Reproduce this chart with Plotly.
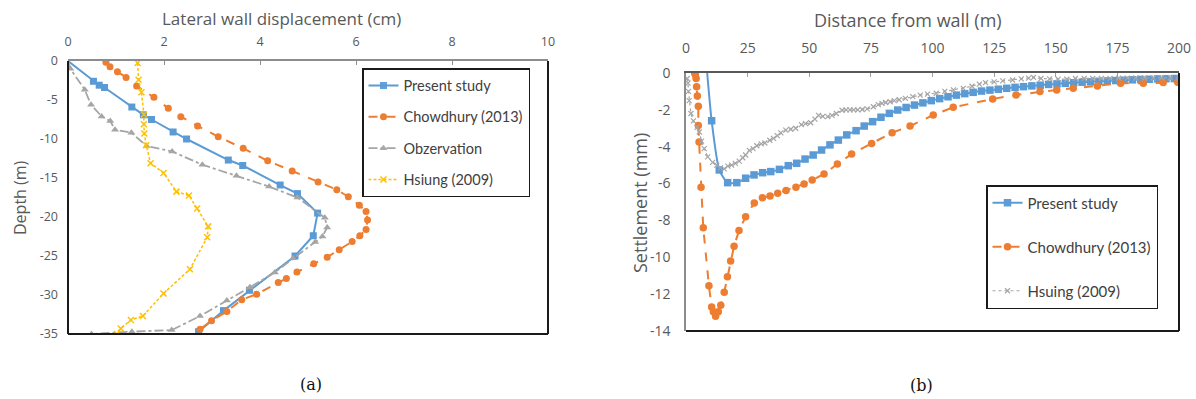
import plotly.graph_objects as go

# ---------------- (a) Lateral wall displacement ----------------
ps_a_x = [0.0, 0.53, 0.65, 0.76, 1.33, 1.57, 1.74, 2.19, 2.47, 3.34, 3.64, 4.42, 4.78, 5.20, 5.11, 4.73, 3.78, 3.24, 2.72]
ps_a_y = [0.0, -2.6, -3.1, -3.4, -5.9, -6.9, -7.5, -9.1, -10.0, -12.7, -13.4, -15.9, -17.0, -19.5, -22.4, -25.0, -29.4, -32.0, -34.7]

ch_a_x = [0.79, 0.875, 1.03, 1.21, 1.43, 1.79, 2.09, 2.35, 2.70, 3.13, 3.65, 4.16, 4.67, 5.21, 5.60, 5.84, 6.07,
          6.21, 6.24, 6.21, 6.08, 5.92, 5.65, 5.40, 5.12, 4.77, 4.55, 4.38, 3.93, 3.62, 3.31, 2.99, 2.75]
ch_a_y = [-0.17, -0.73, -1.37, -2.1, -3.2, -4.65, -6.07, -7.14, -8.33, -9.7, -11.2, -12.8, -14.1, -15.5, -16.5, -17.4, -18.5,
          -19.3, -20.4, -21.6, -22.4, -23.15, -24.2, -25.15, -26.0, -27.05, -27.9, -28.4, -29.9, -30.6, -32.1, -33.3, -34.4]

ob_a_x = [0.0, 0.05, 0.35, 0.48, 0.70, 0.88, 0.98, 1.32, 1.64, 2.17, 2.80, 3.51, 4.19, 4.78, 5.35, 5.40, 5.30, 5.15,
          4.69, 4.31, 3.79, 3.31, 2.75, 2.16, 1.33, 0.49]
ob_a_y = [0.0, -1.0, -3.7, -5.6, -7.1, -7.7, -8.8, -9.2, -10.9, -11.6, -13.3, -14.7, -16.1, -17.5, -20.1, -21.35, -22.5, -23.2,
          -25.3, -27.1, -29.0, -30.7, -32.7, -34.5, -34.7, -35.0]

hs_a_x = [1.45, 1.47, 1.53, 1.58, 1.58, 1.59, 1.63, 1.72, 1.99, 2.26, 2.52, 2.69, 2.92, 2.90, 2.54, 1.99, 1.56, 1.31, 1.10, 1.02]
hs_a_y = [-0.25, -2.4, -4.0, -6.85, -8.1, -9.3, -10.8, -13.1, -14.35, -16.75, -17.25, -18.9, -21.2, -22.6, -26.7, -29.8,
          -32.7, -33.2, -34.3, -35.0]

a_xticks = [0, 2, 4, 6, 8, 10]
a_yticks = [0, -5, -10, -15, -20, -25, -30, -35]
a_yticktext = ["0", "-5", "-10", "-15", "-20", "-25", "-30", "-35"]

# ---------------- (b) Settlement ----------------
ps_b_x = [8.6, 10.4, 13.5, 16.9, 20.6, 24.2, 27.6, 31.1, 34.4, 37.9, 41.5, 44.9, 48.3, 51.6, 55.0, 58.4, 61.8, 65.2, 69.0,
          72.3, 75.7, 79.1, 82.5, 85.9, 89.3, 92.7, 96.1, 99.5, 102.9, 106.3, 109.7, 113.1, 116.5, 119.9, 123.3, 126.7,
          130.1, 133.5, 136.9, 140.3, 143.7, 147.1, 150.5, 153.9, 157.3, 160.7, 164.1, 167.5, 170.9, 174.3, 177.7, 181.1,
          184.5, 187.9, 191.3, 194.7, 198.1]
ps_b_y = [0.0, -2.59, -5.26, -5.95, -5.95, -5.71, -5.53, -5.41, -5.35, -5.23, -5.03, -4.90, -4.67, -4.45, -4.18, -3.90,
          -3.64, -3.36, -3.13, -2.88, -2.64, -2.40, -2.19, -2.01, -1.87, -1.74, -1.62, -1.50, -1.39, -1.29, -1.20, -1.12,
          -1.05, -0.98, -0.93, -0.88, -0.83, -0.78, -0.74, -0.70, -0.66, -0.62, -0.59, -0.56, -0.53, -0.50, -0.48, -0.45,
          -0.43, -0.41, -0.39, -0.37, -0.35, -0.34, -0.32, -0.31, -0.30]

ch_b_x = [3.5, 3.8, 4.1, 4.3, 4.6, 5.0, 5.0, 5.3, 6.1, 7.0, 9.3, 10.4, 11.1, 12.0, 13.1, 14.1, 15.5, 16.8, 18.1, 19.5,
          21.5, 24.2, 27.7, 31.0, 34.1, 37.2, 40.6, 44.6, 47.9, 51.2, 56.0, 61.4, 67.2, 75.3, 83.6, 90.9, 100.3, 108.4,
          124.4, 133.9, 143.6, 150.4, 157.1, 166.9, 176.3, 185.5, 193.6, 199.5]
ch_b_y = [0.0, -0.1, -0.3, -0.75, -1.25, -1.8, -2.85, -3.75, -6.2, -8.4, -11.55, -12.7, -12.95, -13.2, -12.95, -12.6,
          -11.9, -11.05, -10.2, -9.4, -8.55, -7.8, -7.05, -6.77, -6.67, -6.53, -6.38, -6.2, -6.02, -5.81, -5.48, -4.94,
          -4.4, -3.82, -3.24, -2.88, -2.28, -1.86, -1.41, -1.19, -1.01, -0.92, -0.83, -0.71, -0.56, -0.56, -0.52, -0.5]

hs_b_x = [0.5, 0.8, 1.0, 1.3, 2.0, 3.0, 4.5, 5.4, 6.3, 7.4, 8.8, 10.8, 12.5, 14.0, 15.5, 17.0, 18.5, 20.0, 21.6, 23.0,
          24.2, 25.7, 27.2, 28.7, 30.5, 32.0, 34.0, 35.5, 37.0, 38.5, 40.5, 42.5, 44.5, 46.8, 48.5, 50.6, 52.3, 53.8,
          55.5, 57.5, 59.2, 61.0, 63.3, 65.0, 66.5, 68.0, 69.7, 71.5, 73.5, 76.0, 78.0, 79.5, 81.0, 82.8, 84.5, 86.5,
          89.0, 92.0, 95.0, 98.0, 101.5, 105.0, 108.5, 112.5, 116.0, 119.0, 121.5, 125.0, 128.5, 132.5, 136.0, 139.0,
          141.0, 144.0, 147.5, 151.0, 154.5, 158.0, 161.5, 165.0, 168.5, 172.0, 175.5, 179.0, 182.5, 186.0, 189.5,
          193.0, 196.5, 200.0]
hs_b_y = [-0.3, -0.55, -1.0, -1.5, -2.2, -2.6, -2.95, -3.2, -3.7, -4.1, -4.55, -4.85, -5.0, -5.15, -5.2, -5.05, -5.0,
          -4.9, -4.78, -4.6, -4.45, -4.2, -4.1, -3.95, -3.85, -3.8, -3.65, -3.55, -3.4, -3.25, -3.1, -3.05, -3.0, -2.8,
          -2.75, -2.7, -2.5, -2.3, -2.35, -2.37, -2.3, -2.2, -2.02, -2.0, -2.0, -2.0, -2.0, -1.98, -1.95, -1.83, -1.72,
          -1.65, -1.6, -1.56, -1.5, -1.45, -1.38, -1.28, -1.2, -1.15, -1.1, -1.0, -0.92, -0.83, -0.72, -0.6, -0.52,
          -0.48, -0.43, -0.38, -0.32, -0.28, -0.24, -0.3, -0.32, -0.33, -0.34, -0.3, -0.3, -0.3, -0.29, -0.29, -0.28,
          -0.28, -0.27, -0.27, -0.27, -0.26, -0.26, -0.26]

b_xticks = [0, 25, 50, 75, 100, 125, 150, 175, 200]
b_yticks = [0, -2, -4, -6, -8, -10, -12, -14]
b_yticktext = ["0", "-2", "-4", "-6", "-8", "-10", "-12", "-14"]

BLUE = "#5B9BD5"
ORANGE = "#ED7D31"
GRAY = "#A5A5A5"
YELLOW = "#FFC000"
TXT = "#595959"
FONT = "Lato, Open Sans, sans-serif"
TFONT = "Open Sans, Lato, sans-serif"

W, H = 1196, 399
A = dict(l=68, r=548, t=61, b=334)
B = dict(l=686, r=1179, t=73, b=331)


def dom_x(p):
    return [p["l"] / W, p["r"] / W]


def dom_y(p):
    return [1 - p["b"] / H, 1 - p["t"] / H]


fig = go.Figure()

# ---- (a) traces ----
fig.add_trace(go.Scatter(
    x=ps_a_x, y=ps_a_y, name="Present study", mode="lines+markers", xaxis="x", yaxis="y",
    line=dict(color=BLUE, width=2),
    marker=dict(symbol="square", size=7, color=BLUE, opacity=[0] + [1] * (len(ps_a_x) - 1)),
    legend="legend", legendgroup="a1"))
fig.add_trace(go.Scatter(
    x=ch_a_x, y=ch_a_y, name="Chowdhury (2013)", mode="lines+markers", xaxis="x", yaxis="y",
    line=dict(color=ORANGE, width=2, dash="dash"),
    marker=dict(symbol="circle", size=7, color=ORANGE),
    legend="legend", legendgroup="a2"))
fig.add_trace(go.Scatter(
    x=ob_a_x, y=ob_a_y, name="Obzervation", mode="lines+markers", xaxis="x", yaxis="y",
    line=dict(color=GRAY, width=1.8, dash="dashdot"),
    marker=dict(symbol="triangle-up", size=7, color=GRAY, opacity=[0] + [1] * (len(ob_a_x) - 1)),
    legend="legend", legendgroup="a3"))
fig.add_trace(go.Scatter(
    x=hs_a_x, y=hs_a_y, name="Hsiung (2009)", mode="lines+markers", xaxis="x", yaxis="y",
    line=dict(color=YELLOW, width=1.5, dash="3px,2px"),
    marker=dict(symbol="x-thin", size=6, color=YELLOW, line=dict(color=YELLOW, width=1.5)),
    legend="legend", legendgroup="a4"))

# ---- (b) traces ----
fig.add_trace(go.Scatter(
    x=ps_b_x, y=ps_b_y, name="Present study", mode="lines+markers", xaxis="x2", yaxis="y2",
    line=dict(color=BLUE, width=2, shape="spline", smoothing=0.6),
    marker=dict(symbol="square", size=7.5, color=BLUE, opacity=[0] + [1] * (len(ps_b_x) - 1)),
    legend="legend2", legendgroup="b1"))
fig.add_trace(go.Scatter(
    x=ch_b_x, y=ch_b_y, name="Chowdhury (2013)", mode="lines+markers", xaxis="x2", yaxis="y2",
    line=dict(color=ORANGE, width=2, dash="dash"),
    marker=dict(symbol="circle", size=7.5, color=ORANGE),
    legend="legend2", legendgroup="b2"))
fig.add_trace(go.Scatter(
    x=hs_b_x, y=hs_b_y, name="Hsuing (2009)", mode="lines+markers", xaxis="x2", yaxis="y2",
    line=dict(color=GRAY, width=1.2, dash="dot"),
    marker=dict(symbol="x-thin", size=5, color=GRAY, line=dict(color=GRAY, width=1.2)),
    legend="legend2", legendgroup="b3"))

fig.update_layout(
    width=W, height=H, margin=dict(l=0, r=0, t=0, b=0, autoexpand=False),
    paper_bgcolor="white", plot_bgcolor="white",
    font=dict(family=FONT, color=TXT),
    xaxis=dict(domain=dom_x(A), anchor="y", side="top", range=[0, 10], tickvals=a_xticks, automargin=False,
               showgrid=False, zeroline=False, showline=True, linecolor="#8C8C8C", linewidth=1.5,
               ticks="inside", ticklen=4, tickcolor="#8C8C8C", tickfont=dict(size=12.5, color=TXT, family=TFONT),
               ticklabelstandoff=8),
    yaxis=dict(domain=dom_y(A), anchor="x", range=[-35, 0], tickvals=a_yticks, ticktext=a_yticktext,
               automargin=False,
               showgrid=False, zeroline=False, showline=False, ticks="",
               tickfont=dict(size=12.5, color=TXT, family=TFONT), ticklabelstandoff=9),
    xaxis2=dict(domain=dom_x(B), anchor="y2", side="top", range=[0, 200], tickvals=b_xticks, automargin=False,
                showgrid=False, zeroline=False, showline=True, linecolor="#595959", linewidth=1.5,
                ticks="inside", ticklen=4, tickcolor="#A0A0A0",
                tickfont=dict(size=14, color=TXT, family=TFONT), ticklabelstandoff=13),
    yaxis2=dict(domain=dom_y(B), anchor="x2", range=[-14, 0], tickvals=b_yticks, ticktext=b_yticktext,
                automargin=False,
                showgrid=False, zeroline=False, showline=True, linecolor="#8C8C8C", linewidth=1.5,
                ticks="", tickfont=dict(size=14, color=TXT, family=TFONT), ticklabelstandoff=11),
    legend=dict(x=362 / W, y=1 - 68 / H, xanchor="left", yanchor="top", bgcolor="white",
                bordercolor="#1a1a1a", borderwidth=1.5, font=dict(size=14.5, color="#404040", family=FONT),
                traceorder="grouped", tracegroupgap=9.5, itemwidth=30),
    legend2=dict(x=986 / W, y=1 - 185 / H, xanchor="left", yanchor="top", bgcolor="white",
                 bordercolor="#1a1a1a", borderwidth=1.5, font=dict(size=15, color="#404040", family=FONT),
                 traceorder="grouped", tracegroupgap=21.5, itemwidth=30),
    showlegend=True,
)

# frame lines (left, right, bottom) for both panels
for xr, yr, lc in (("x domain", "y domain", "#1a1a1a"), ("x2 domain", "y2 domain", "#1a1a1a")):
    fig.add_shape(type="line", xref=xr, yref=yr, x0=0, x1=1, y0=0, y1=0, line=dict(color=lc, width=2), layer="above")
    fig.add_shape(type="line", xref=xr, yref=yr, x0=1, x1=1, y0=0, y1=1, line=dict(color=lc, width=2), layer="above")
fig.add_shape(type="line", xref="x domain", yref="y domain", x0=0, x1=0, y0=0, y1=1,
              line=dict(color="#1a1a1a", width=2), layer="above")


def note(text, px, py, size, angle=0, color=TXT, family=TFONT):
    fig.add_annotation(text=text, x=px / W, y=1 - py / H, xref="paper", yref="paper",
                       xanchor="center", yanchor="middle", textangle=angle, showarrow=False,
                       font=dict(size=size, color=color, family=family))


# axis titles & captions
note("Lateral wall displacement (cm)", 281, 18, 17)
note("Depth (m)", 20, 198, 16, angle=-90)
note("Distance from wall (m)", 908, 20, 18)
note("Settlement (mm)", 640, 203, 18, angle=-90)
note("(a)", 311, 384, 16, color="#111111", family="DejaVu Serif, serif")
note("(b)", 921, 385, 16, color="#111111", family="DejaVu Serif, serif")

fig.write_html("out.html")
